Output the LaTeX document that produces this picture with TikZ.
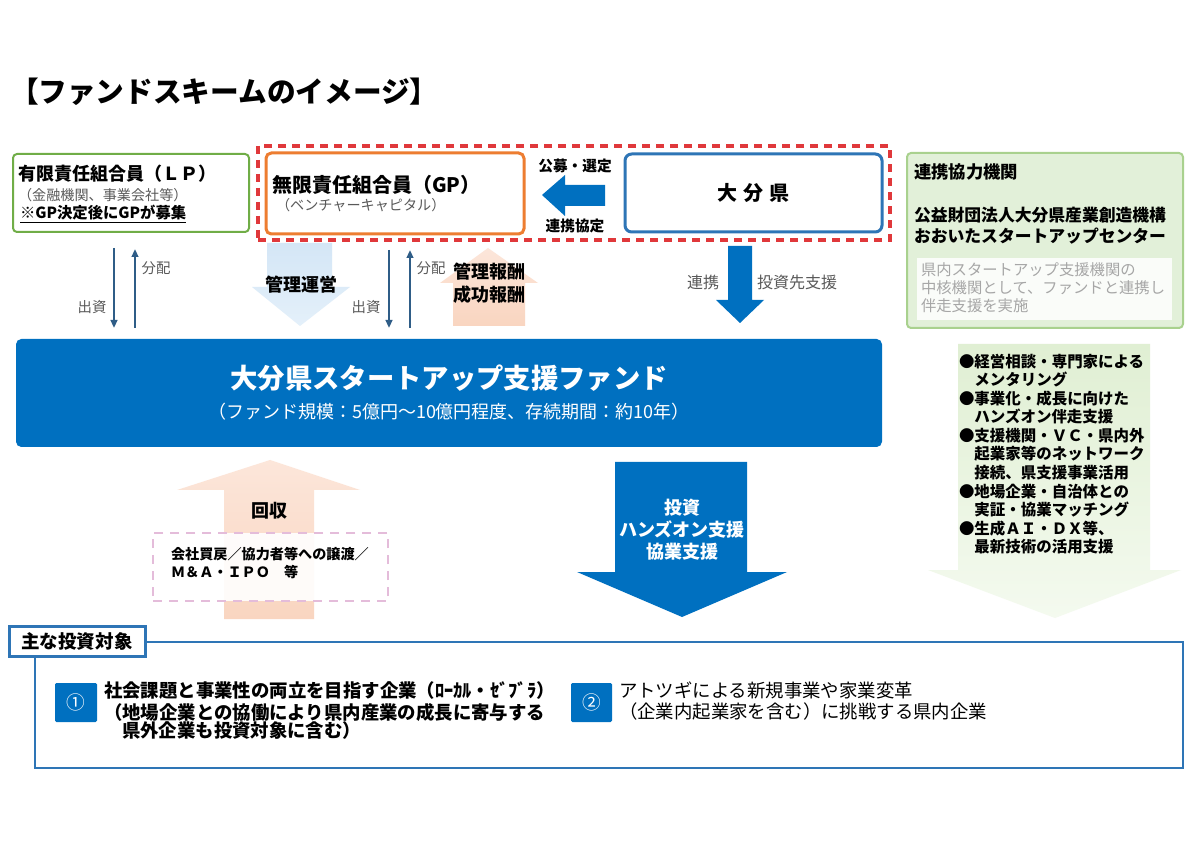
\documentclass[tikz,border=0pt]{standalone}
\usepackage{fontspec}
\setmainfont{Noto Sans CJK JP}
\usetikzlibrary{arrows.meta,fit}
\definecolor{lpgreen}{HTML}{70AD47}
\definecolor{gporange}{HTML}{ED7D31}
\definecolor{dashred}{HTML}{E0383B}
\definecolor{oitablue}{HTML}{2E75B6}
\definecolor{fundblue}{HTML}{0070C0}
\definecolor{thinblue}{HTML}{2F5D87}
\definecolor{lbtop}{HTML}{D4E6F6}
\definecolor{lbbot}{HTML}{E4F0FA}
\definecolor{peachbot}{HTML}{F9D5C0}
\definecolor{peachtop}{HTML}{FCE6DA}
\definecolor{gfill}{HTML}{E2F0D9}
\definecolor{gborder}{HTML}{A9D18E}
\definecolor{garrtop}{HTML}{E0EFD3}
\definecolor{garrbot}{HTML}{F4FAEF}
\definecolor{pinkdash}{HTML}{E4BCDA}
\definecolor{txtgray}{HTML}{595959}
\definecolor{lightgray}{HTML}{A6A6A6}
\newcommand\fsz[2]{\fontsize{#1pt}{#2pt}\selectfont}
\begin{document}
\begin{tikzpicture}[x=0.75pt,y=-0.75pt,
  txt/.style={inner sep=0pt, outer sep=0pt},
  boxfit/.style={inner sep=0pt, outer sep=0pt},
  thinarr/.style={draw=thinblue, line width=1.5pt, -{Triangle[width=5pt,length=6pt]}},
  lbl/.style={txt, font=\fsz{10.8}{13}, text=txtgray}
]
\useasboundingbox (0,0) rectangle (1200,848);
\fill[white] (0,0) rectangle (1200,848);

% title
\node[txt, anchor=west, font=\bfseries\fsz{21.5}{26}] (title) at (10,92) {【ファンドスキームのイメージ】};

% LP box
\node[boxfit, fit={(13,154) (249,232)}, draw=lpgreen, line width=1.5pt, rounded corners=3pt] (lp) {};
\node[txt, anchor=west, font=\bfseries\fsz{13.5}{16}] (lpt1) at (18,174) {有限責任組合員（ＬＰ）};
\node[txt, anchor=west, font=\fsz{10.6}{13}, text=txtgray] (lpt2) at (18,195) {（金融機関、事業会社等）};
\node[txt, anchor=west, font=\bfseries\fsz{11.5}{14}] (lpt3) at (20,214) {\underline{※GP決定後にGPが募集}};

% red dashed group
\node[boxfit, fit={(258,146) (890,240)}, draw=dashred, line width=2.4pt, dash pattern=on 6pt off 4.5pt] (grp) {};

% GP box
\node[boxfit, fit={(266,153) (524,234)}, fill=white, draw=gporange, line width=2.25pt, rounded corners=4pt] (gp) {};
\node[txt, anchor=west, font=\bfseries\fsz{15}{18}] (gpt1) at (272,185) {無限責任組合員（GP）};
\node[txt, anchor=west, font=\fsz{10.6}{13}, text=txtgray] (gpt2) at (276,205) {（ベンチャーキャピタル）};

% left blue arrow
\fill[fundblue] (542,195) -- (565,175) -- (565,185) -- (605,185) -- (605,206) -- (565,206) -- (565,216) -- cycle;
\node[txt, font=\bfseries\fsz{11}{13}] (kobo) at (575,166) {公募・選定};
\node[txt, font=\bfseries\fsz{11}{13}] (kyotei) at (575,226) {連携協定};

% Oita box
\node[boxfit, fit={(625,154) (882,232)}, fill=white, draw=oitablue, line width=2.25pt, rounded corners=5pt] (oita) {};
\node[txt, font=\bfseries\fsz{15}{18}] (oitat) at (753,193) {大\hspace{0.3em}分\hspace{0.3em}県};

% right green box
\node[boxfit, fit={(907,153) (1183,328)}, fill=gfill, draw=gborder, line width=1.5pt, rounded corners=3pt] (partner) {};
\node[txt, anchor=west, font=\bfseries\fsz{13}{16}] (pt1) at (914,172) {連携協力機関};
\node[txt, anchor=west, font=\bfseries\fsz{12.6}{15}] (pt2) at (914,215) {公益財団法人大分県産業創造機構};
\node[txt, anchor=west, font=\bfseries\fsz{12.6}{15}] (pt3) at (914,236) {おおいたスタートアップセンター};
\node[boxfit, fit={(917,258) (1172,320)}, fill=white, fill opacity=0.85] (inner) {};
\node[txt, anchor=north west, align=left, font=\fsz{11.5}{13.5}, text=lightgray] (innert) at (921,263) {県内スタートアップ支援機関の\\中核機関として、ファンドと連携し\\伴走支援を実施};

% green arrow
\shade[top color=garrtop, bottom color=garrbot] (958,344) -- (1150,344) -- (1150,570) -- (1181,570) -- (1055,618) -- (928,570) -- (958,570) -- cycle;
\node[txt, anchor=north west, align=left, font=\bfseries\fsz{11.6}{13.9}] (bullets) at (959,354) {●経営相談・専門家による\\\hspace{1em}メンタリング\\●事業化・成長に向けた\\\hspace{1em}ハンズオン伴走支援\\●支援機関・ＶＣ・県内外\\\hspace{1em}起業家等のネットワーク\\\hspace{1em}接続、県支援事業活用\\●地場企業・自治体との\\\hspace{1em}実証・協業マッチング\\●生成ＡＩ・ＤＸ等、\\\hspace{1em}最新技術の活用支援};

% management arrow (light blue)
\shade[top color=lbtop, bottom color=lbbot] (267,243) -- (332,243) -- (332,287) -- (350,287) -- (300,326) -- (252,287) -- (267,287) -- cycle;
\node[txt, font=\bfseries\fsz{13.5}{16}] (kanri) at (301,285) {管理運営};

% reward arrow (peach)
\shade[top color=peachtop, bottom color=peachbot] (488,248) -- (538,283) -- (525,283) -- (525,326) -- (453,326) -- (453,283) -- (440,283) -- cycle;
\node[txt, align=center, font=\bfseries\fsz{13.5}{17.5}] (hoshu) at (489,283) {管理報酬\\成功報酬};

% blue down arrow (renkei)
\fill[fundblue] (728,246) -- (752,246) -- (752,300) -- (764,300) -- (740,323) -- (716,300) -- (728,300) -- cycle;
\node[txt, font=\fsz{12}{14}, text=txtgray] (renkei) at (703,282) {連携};
\node[txt, font=\fsz{12}{14}, text=txtgray] (toushisaki) at (797,282) {投資先支援};

% thin arrows
\coordinate (lpd1) at (114,248); \coordinate (lpd2) at (114,328);
\coordinate (lpu1) at (135,328); \coordinate (lpu2) at (135,249);
\coordinate (gpd1) at (389,250); \coordinate (gpd2) at (389,328);
\coordinate (gpu1) at (410,328); \coordinate (gpu2) at (410,250);
\draw[thinarr] (lpd1) -- (lpd2);
\draw[thinarr] (lpu1) -- (lpu2);
\draw[thinarr] (gpd1) -- (gpd2);
\draw[thinarr] (gpu1) -- (gpu2);
\node[lbl] (shusshi1) at (92,307) {出資};
\node[lbl] (bunpai1) at (156,268) {分配};
\node[lbl] (shusshi2) at (366,307) {出資};
\node[lbl] (bunpai2) at (431,268) {分配};

% fund box
\node[boxfit, fit={(16,339) (882,447)}, fill=fundblue, rounded corners=4pt] (fund) {};
\node[txt, font=\bfseries\fsz{20.5}{24}, text=white] (fundt) at (449,378) {大分県スタートアップ支援ファンド};
\node[txt, font=\fsz{13.5}{16}, text=white] (funds) at (449,412) {（ファンド規模：5億円～10億円程度、存続期間：約10年）};

% recovery arrow (peach)
\shade[top color=peachtop, bottom color=peachbot] (270,460) -- (360,490) -- (314,490) -- (314,619) -- (224,619) -- (224,490) -- (177,490) -- cycle;
\node[txt, font=\bfseries\fsz{13.5}{16}] (kaishu) at (269,511) {回収};
\node[boxfit, fit={(153,533) (388,601)}, fill=white, fill opacity=0.9, draw=pinkdash, draw opacity=1, line width=1.2pt, dash pattern=on 7pt off 5pt] (exit) {};
\node[txt, anchor=north west, align=left, font=\bfseries\fsz{10.6}{13.5}] (exitt) at (171,547) {会社買戻／協力者等への譲渡／\\Ｍ＆Ａ・ＩＰＯ　等};

% investment arrow
\fill[fundblue] (615,462) -- (747,462) -- (747,572) -- (787,572) -- (682,617) -- (577,572) -- (615,572) -- cycle;
\node[txt, align=center, font=\bfseries\fsz{13.5}{16.5}, text=white] (invt) at (682,530) {投資\\ハンズオン支援\\協業支援};

% bottom section
\draw[oitablue, line width=1.5pt] (35,642) rectangle (1183,768);
\node[boxfit, fit={(9,626) (145,656)}, fill=white, draw=oitablue, line width=2.25pt] (tab) {};
\node[txt, font=\bfseries\fsz{13.9}{16}] (tabt) at (77,641) {主な投資対象};

\node[boxfit, fit={(55,683) (97,722)}, fill=fundblue, rounded corners=1pt] (n1) {};
\node[txt, font=\fsz{14}{16}, text=white] at (n1) {①};
\node[txt, anchor=west, font=\bfseries\fsz{13.8}{16}] (t1a) at (104,691) {社会課題と事業性の両立を目指す企業（ﾛｰｶﾙ・ｾﾞﾌﾞﾗ）};
\node[txt, anchor=west, font=\bfseries\fsz{13.8}{16}] (t1b) at (104,712) {（地場企業との協働により県内産業の成長に寄与する};
\node[txt, anchor=west, font=\bfseries\fsz{13.8}{16}] (t1c) at (122,731) {県外企業も投資対象に含む）};

\node[boxfit, fit={(571,683) (612,722)}, fill=fundblue, rounded corners=1pt] (n2) {};
\node[txt, font=\fsz{14}{16}, text=white] at (n2) {②};
\node[txt, anchor=west, font=\fsz{13.8}{16}] (t2a) at (619,690) {アトツギによる新規事業や家業変革};
\node[txt, anchor=west, font=\fsz{13.8}{16}] (t2b) at (619,712) {（企業内起業家を含む）に挑戦する県内企業};
\end{tikzpicture}
\end{document}
